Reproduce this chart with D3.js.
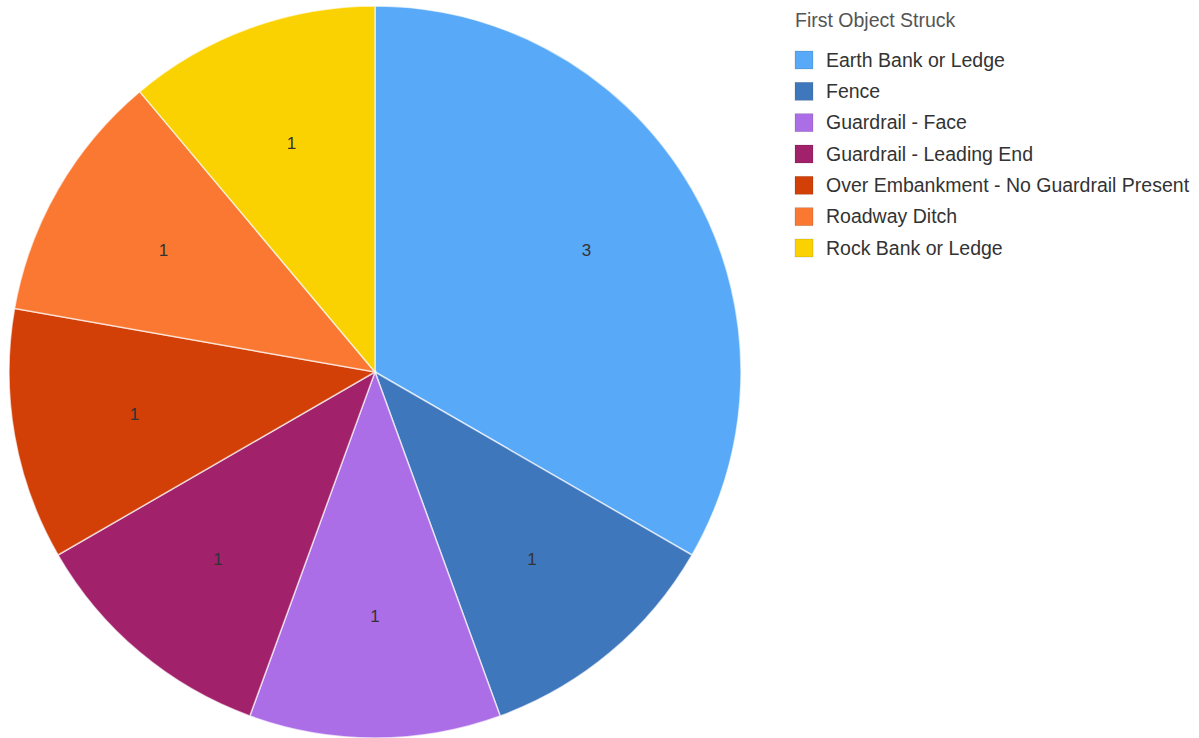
<!DOCTYPE html>
<html>
<head>
<meta charset="utf-8">
<script src="https://cdn.jsdelivr.net/npm/d3@7"></script>
<style>
  html, body { margin: 0; padding: 0; background: #fff; }
  svg { display: block; font-family: "Liberation Sans", Arial, sans-serif; }
</style>
</head>
<body>
<svg id="chart" width="1199" height="738"></svg>
<script>
// First object struck, crash counts
const categories = [
  "Earth Bank or Ledge",
  "Fence",
  "Guardrail - Face",
  "Guardrail - Leading End",
  "Over Embankment - No Guardrail Present",
  "Roadway Ditch",
  "Rock Bank or Ledge"
];
const counts = [3, 1, 1, 1, 1, 1, 1];
const colors = ["#58a9f7", "#3f77bd", "#ab6ee6", "#a1216b", "#d23f07", "#fa7831", "#fbd201"];
const legendTitle = "First Object Struck";

const svg = d3.select("#chart");
const cx = 375, cy = 372, radius = 366;

const data = categories.map((c, i) => ({ name: c, value: counts[i], color: colors[i] }));

const pie = d3.pie().value(d => d.value).sort(null);
const arc = d3.arc().innerRadius(0).outerRadius(radius);
const labelArc = d3.arc().innerRadius(radius * 0.667).outerRadius(radius * 0.667);

const g = svg.append("g").attr("transform", `translate(${cx},${cy})`);
const arcs = pie(data);

g.selectAll("path.slice")
  .data(arcs)
  .enter().append("path")
  .attr("class", "slice")
  .attr("d", arc)
  .attr("fill", d => d.data.color)
  .attr("stroke", "rgba(255,255,255,0.65)")
  .attr("stroke-width", 1.5);

g.selectAll("text.value")
  .data(arcs)
  .enter().append("text")
  .attr("class", "value")
  .attr("transform", d => `translate(${labelArc.centroid(d)})`)
  .attr("text-anchor", "middle")
  .attr("dy", "0.35em")
  .attr("font-size", 17)
  .attr("fill", "#333")
  .text(d => d.data.value);

// Legend
const legend = svg.append("g").attr("transform", "translate(795,0)");
legend.append("text")
  .attr("x", 0).attr("y", 27)
  .attr("font-size", 19.5)
  .attr("fill", "#555")
  .text(legendTitle);

const rowY = d3.scaleLinear().domain([0, categories.length - 1]).range([60, 248]);
const rows = legend.selectAll("g.row")
  .data(data)
  .enter().append("g")
  .attr("class", "row")
  .attr("transform", (d, i) => `translate(0,${rowY(i)})`);

rows.append("rect")
  .attr("x", 0).attr("y", -9)
  .attr("width", 18).attr("height", 18)
  .attr("fill", d => d.color)
  .attr("stroke", "rgba(0,0,0,0.15)")
  .attr("stroke-width", 0.8);

rows.append("text")
  .attr("x", 31).attr("y", 0)
  .attr("dy", "0.35em")
  .attr("font-size", 19.5)
  .attr("fill", "#333")
  .text(d => d.name);
</script>
</body>
</html>
